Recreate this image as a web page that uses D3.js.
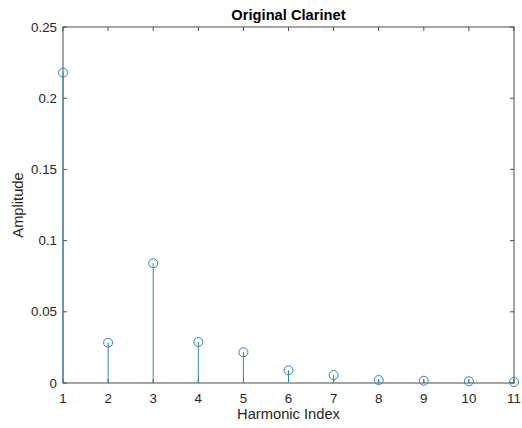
<!DOCTYPE html>
<html>
<head>
<meta charset="utf-8">
<script src="https://cdn.jsdelivr.net/npm/d3@7"></script>
<style>
  body { margin: 0; background: #fff; }
  text { font-family: "Liberation Sans", Arial, sans-serif; fill: #262626; }
</style>
</head>
<body>
<div id="chart"></div>
<script>
// harmonic amplitudes
const harmonics = [1, 2, 3, 4, 5, 6, 7, 8, 9, 10, 11];
const amplitudes = [0.218, 0.0283, 0.0841, 0.0288, 0.0216, 0.0089, 0.0056, 0.0021, 0.0016, 0.0012, 0.0007];
const yTicks = [0, 0.05, 0.1, 0.15, 0.2, 0.25];
const yTickLabels = ["0", "0.05", "0.1", "0.15", "0.2", "0.25"];

const width = 522, height = 428;
const margin = {top: 27, right: 8, bottom: 45, left: 63};
const stemColor = "#2f86bb";
const axisColor = "#4d4d4d";

const svg = d3.select("#chart").append("svg")
    .attr("width", width)
    .attr("height", height);

const xScale = d3.scaleLinear().domain([1, 11]).range([margin.left, width - margin.right]);
const yScale = d3.scaleLinear().domain([0, 0.25]).range([height - margin.bottom, margin.top]);

const tickLen = 4;

// box
svg.append("rect")
    .attr("x", xScale(1)).attr("y", yScale(0.25))
    .attr("width", xScale(11) - xScale(1))
    .attr("height", yScale(0) - yScale(0.25))
    .attr("fill", "none")
    .attr("stroke", axisColor)
    .attr("stroke-width", 1);

// x ticks (bottom + top, inward)
let xt = svg.append("g").attr("class", "xticks");
harmonics.forEach(function (d) {
  xt.append("line")
    .attr("x1", xScale(d)).attr("x2", xScale(d))
    .attr("y1", yScale(0)).attr("y2", yScale(0) - tickLen)
    .attr("stroke", axisColor);
  xt.append("line")
    .attr("x1", xScale(d)).attr("x2", xScale(d))
    .attr("y1", yScale(0.25)).attr("y2", yScale(0.25) + tickLen)
    .attr("stroke", axisColor);
  xt.append("text")
    .attr("x", xScale(d))
    .attr("y", yScale(0) + 20)
    .style("text-anchor", "middle")
    .style("font-size", "13.3px")
    .text(d);
});

// y ticks (left + right, inward)
let yt = svg.append("g").attr("class", "yticks");
yTicks.forEach(function (d, i) {
  yt.append("line")
    .attr("x1", xScale(1)).attr("x2", xScale(1) + tickLen)
    .attr("y1", yScale(d)).attr("y2", yScale(d))
    .attr("stroke", axisColor);
  yt.append("line")
    .attr("x1", xScale(11)).attr("x2", xScale(11) - tickLen)
    .attr("y1", yScale(d)).attr("y2", yScale(d))
    .attr("stroke", axisColor);
  yt.append("text")
    .attr("x", xScale(1) - 6)
    .attr("y", yScale(d))
    .attr("dy", "0.35em")
    .style("text-anchor", "end")
    .style("font-size", "13.3px")
    .text(yTickLabels[i]);
});

// stems
let stems = svg.append("g").attr("class", "stems");
stems.selectAll("line")
    .data(harmonics)
    .enter().append("line")
    .attr("x1", function (d) { return xScale(d); })
    .attr("x2", function (d) { return xScale(d); })
    .attr("y1", yScale(0))
    .attr("y2", function (d, i) { return yScale(amplitudes[i]); })
    .attr("stroke", stemColor)
    .attr("stroke-width", 1);

stems.selectAll("circle")
    .data(harmonics)
    .enter().append("circle")
    .attr("cx", function (d) { return xScale(d); })
    .attr("cy", function (d, i) { return yScale(amplitudes[i]); })
    .attr("r", 4.5)
    .attr("fill", "none")
    .attr("stroke", stemColor)
    .attr("stroke-width", 1);

// title and axis labels
svg.append("text")
    .attr("x", (xScale(1) + xScale(11)) / 2)
    .attr("y", 20)
    .style("text-anchor", "middle")
    .style("font-size", "14.7px")
    .style("font-weight", "bold")
    .style("fill", "#000")
    .text("Original Clarinet");

svg.append("text")
    .attr("x", (xScale(1) + xScale(11)) / 2)
    .attr("y", 419)
    .style("text-anchor", "middle")
    .style("font-size", "14.7px")
    .text("Harmonic Index");

svg.append("text")
    .attr("transform", "translate(23," + yScale(0.125) + ") rotate(-90)")
    .style("text-anchor", "middle")
    .style("font-size", "14.7px")
    .text("Amplitude");
</script>
</body>
</html>
